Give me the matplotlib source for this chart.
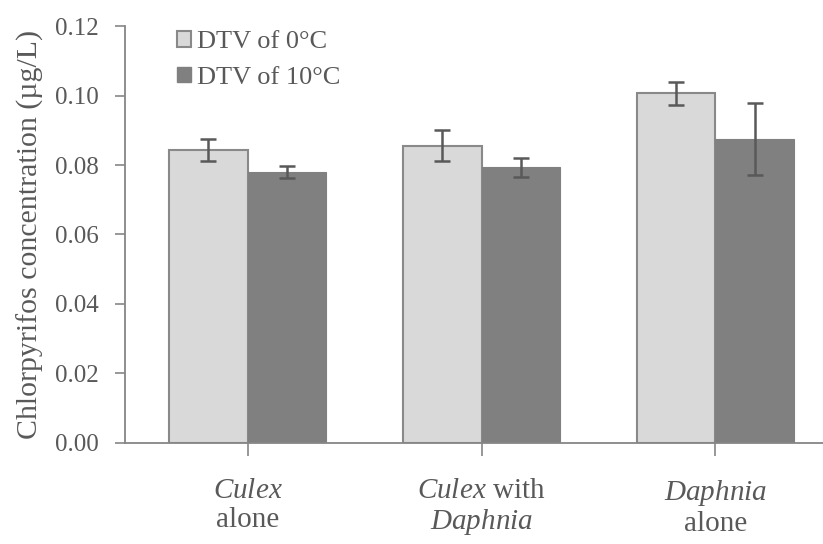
import matplotlib
matplotlib.use("Agg")
import matplotlib.pyplot as plt
from matplotlib.patches import Patch
import numpy as np

categories = ["$\\mathit{Culex}$\nalone", "$\\mathit{Culex}$ with\n$\\mathit{Daphnia}$", "$\\mathit{Daphnia}$\nalone"]
series_names = ["DTV of 0°C", "DTV of 10°C"]
dtv0 = [0.0843, 0.0856, 0.1006]
dtv0_err = [0.0031, 0.0044, 0.0033]
dtv10 = [0.0779, 0.0793, 0.0875]
dtv10_err = [0.0017, 0.0028, 0.0103]
yticks = [0.00, 0.02, 0.04, 0.06, 0.08, 0.10, 0.12]

plt.rcParams['font.family'] = ['Liberation Serif', 'DejaVu Serif']
plt.rcParams['mathtext.fontset'] = 'custom'
plt.rcParams['mathtext.rm'] = 'Liberation Serif'
plt.rcParams['mathtext.it'] = 'Liberation Serif:italic'

txt = '#595959'
axc = '#868686'

fig = plt.figure(figsize=(8.23, 5.44), dpi=100)
ax = fig.add_axes([0.152, 0.186, 0.848, 0.766])

x = np.arange(len(categories))
w = 0.335
ax.bar(x - w/2, dtv0, w, color='#d9d9d9', edgecolor='#898989', linewidth=1.5, zorder=2)
ax.bar(x + w/2, dtv10, w, color='#808080', edgecolor='#808080', linewidth=0.8, zorder=2)
ax.errorbar(x - w/2, dtv0, yerr=dtv0_err, fmt='none', ecolor='#595959', elinewidth=1.8, capsize=6, capthick=1.8, zorder=3)
ax.errorbar(x + w/2, dtv10, yerr=dtv10_err, fmt='none', ecolor='#595959', elinewidth=1.8, capsize=6, capthick=1.8, zorder=3)

ax.set_ylim(0, 0.12)
ax.set_xlim(-0.524, 2.46)
ax.set_yticks(yticks)
ax.set_yticklabels([f"{v:.2f}" for v in yticks], fontsize=18, color=txt)
ax.set_xticks(x)
ax.set_xticklabels(categories, fontsize=21, color=txt, linespacing=1.18)
ax.tick_params(axis='y', length=7, width=1.2, color=axc, pad=12)
ax.tick_params(axis='x', length=9, width=1.2, color=axc, pad=16)

for s in ['top', 'right']:
    ax.spines[s].set_visible(False)
for s in ['left', 'bottom']:
    ax.spines[s].set_color(axc)
    ax.spines[s].set_linewidth(1.3)

ax.set_ylabel("Chlorpyrifos concentration (µg/L)", fontsize=21.5, color=txt, labelpad=8)

handles = [Patch(facecolor='#d9d9d9', edgecolor='#898989', linewidth=1.5),
           Patch(facecolor='#808080', edgecolor='#808080')]
leg = ax.legend(handles, series_names, loc='upper left', bbox_to_anchor=(0.04, 1.045),
                frameon=False, fontsize=19, handlelength=0.55, handleheight=0.55,
                handletextpad=0.2, labelspacing=0.5, labelcolor=txt)

fig.savefig("out.png", dpi=100)
